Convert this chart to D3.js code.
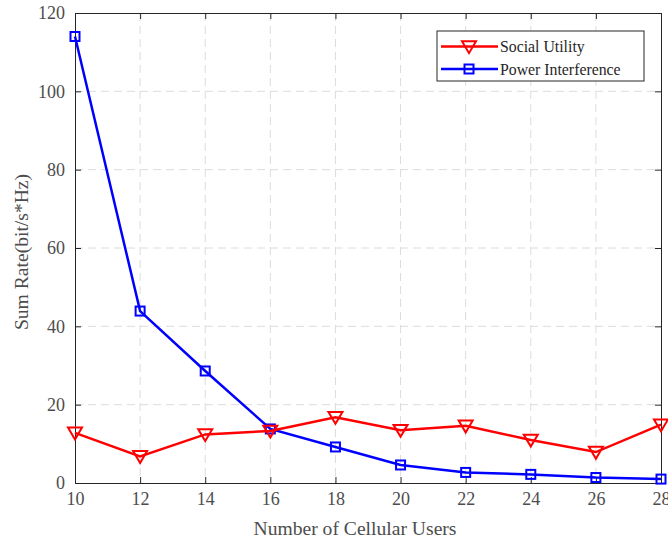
<!DOCTYPE html>
<html><head><meta charset="utf-8">
<script src="https://cdn.jsdelivr.net/npm/d3@7/dist/d3.min.js"></script>
<style>body{margin:0;background:#fff}svg{display:block}</style>
</head><body>
<svg id="c" width="668" height="542"></svg>
<script>
const users = [10,12,14,16,18,20,22,24,26,28];
const socialUtility = [12.8,6.8,12.4,13.3,16.8,13.5,14.6,11.0,7.9,14.9];
const powerInterference = [114,43.9,28.6,13.8,9.2,4.6,2.7,2.2,1.4,1.0];
const xTicks = [10,12,14,16,18,20,22,24,26,28];
const yTicks = [0,20,40,60,80,100,120];

const svg = d3.select("#c");
const L=75, R=661, T=13, B=483;
const x = d3.scaleLinear().domain([10,28]).range([L,R]);
const y = d3.scaleLinear().domain([0,120]).range([B,T]);
const font = "'Liberation Serif','Times New Roman',serif";
const tc = "#4d4d4d";

// grid
const g = svg.append("g");
g.selectAll(".gx").data(xTicks.slice(1,-1)).enter().append("line")
 .attr("x1",d=>x(d)).attr("x2",d=>x(d)).attr("y1",T).attr("y2",B)
 .attr("stroke","#dcdcdc").attr("stroke-width",1).attr("stroke-dasharray","8,5");
g.selectAll(".gy").data(yTicks.slice(1,-1)).enter().append("line")
 .attr("y1",d=>y(d)).attr("y2",d=>y(d)).attr("x1",L).attr("x2",R)
 .attr("stroke","#dcdcdc").attr("stroke-width",1).attr("stroke-dasharray","8,5");

// axes
const ax = svg.append("g");
ax.append("g").attr("transform",`translate(0,${B})`)
 .call(d3.axisBottom(x).tickValues(xTicks).tickSize(-6).tickPadding(9).tickFormat(d3.format("d")));
ax.append("g").attr("transform",`translate(0,${T})`)
 .call(d3.axisTop(x).tickValues(xTicks).tickSize(-6).tickFormat(""));
ax.append("g").attr("transform",`translate(${L},0)`)
 .call(d3.axisLeft(y).tickValues(yTicks).tickSize(-6).tickPadding(10).tickFormat(d3.format("d")));
ax.append("g").attr("transform",`translate(${R},0)`)
 .call(d3.axisRight(y).tickValues(yTicks).tickSize(-6).tickFormat(""));
ax.selectAll("path.domain").attr("stroke","#262626").attr("stroke-width",1);
ax.selectAll(".tick line").attr("stroke","#262626");
ax.selectAll(".tick text").attr("font-family",font).attr("font-size","18px").attr("fill",tc);

// labels
svg.append("text").attr("x",355).attr("y",535).attr("text-anchor","middle")
 .attr("font-family",font).attr("font-size","19.6px").attr("fill",tc).text("Number of Cellular Users");
svg.append("text").attr("transform",`translate(28,252) rotate(-90)`).attr("text-anchor","middle")
 .attr("font-family",font).attr("font-size","19.6px").attr("fill",tc).text("Sum Rate(bit/s*Hz)");

const line = d3.line().x((d,i)=>x(users[i])).y(d=>y(d));
function tri(cx,cy,s){return `M${cx-s},${cy-s*0.75}L${cx+s},${cy-s*0.75}L${cx},${cy+s*0.95}Z`;}

// blue
svg.append("path").datum(powerInterference).attr("d",line).attr("fill","none")
 .attr("stroke","#0000ff").attr("stroke-width",2.5);
svg.selectAll(".sq").data(powerInterference).enter().append("rect")
 .attr("x",(d,i)=>x(users[i])-4.5).attr("y",d=>y(d)-4.5).attr("width",9).attr("height",9)
 .attr("fill","none").attr("stroke","#0000ff").attr("stroke-width",2);
// red
svg.append("path").datum(socialUtility).attr("d",line).attr("fill","none")
 .attr("stroke","#ff0000").attr("stroke-width",2.5);
svg.selectAll(".tr").data(socialUtility).enter().append("path")
 .attr("d",(d,i)=>tri(x(users[i]),y(d),7)).attr("fill","none")
 .attr("stroke","#ff0000").attr("stroke-width",2);

// legend
const lg = svg.append("g");
lg.append("rect").attr("x",437).attr("y",31).attr("width",207).attr("height",50)
 .attr("fill","#fff").attr("stroke","#262626").attr("stroke-width",1);
const items=[{n:"Social Utility",c:"#ff0000",t:"tri"},{n:"Power Interference",c:"#0000ff",t:"sq"}];
items.forEach((it,i)=>{
  const yy = 46.5 + i*22.5;
  lg.append("line").attr("x1",441).attr("x2",498).attr("y1",yy).attr("y2",yy)
   .attr("stroke",it.c).attr("stroke-width",2.5);
  if(it.t==="tri") lg.append("path").attr("d",tri(469,yy,7)).attr("fill","none").attr("stroke",it.c).attr("stroke-width",2);
  else lg.append("rect").attr("x",464.5).attr("y",yy-4.5).attr("width",9).attr("height",9).attr("fill","none").attr("stroke",it.c).attr("stroke-width",2);
  lg.append("text").attr("x",500).attr("y",yy+5.5).attr("font-family",font).attr("font-size","15.8px")
   .attr("fill","#262626").text(it.n);
});
</script>
</body></html>
